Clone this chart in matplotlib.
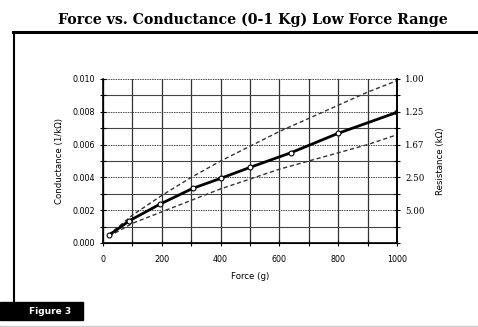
import matplotlib.pyplot as plt
import matplotlib.patches as patches
from matplotlib.ticker import MultipleLocator

# measured curve (force in g, conductance in 1/kOhm)
force = [22, 90, 195, 305, 400, 500, 640, 800, 1000]
conductance = [0.0005, 0.00136, 0.00238, 0.00333, 0.00394, 0.00461, 0.00551, 0.00669, 0.00797]

# tolerance band (dashed)
band_force = [20, 100, 200, 300, 400, 500, 600, 700, 800, 900, 1000]
band_upper = [0.0005, 0.0017, 0.0029, 0.0040, 0.0050, 0.0059, 0.0068, 0.0076, 0.0084, 0.0092, 0.0099]
band_lower = [0.0004, 0.0012, 0.0019, 0.0026, 0.0033, 0.0039, 0.0045, 0.0050, 0.0055, 0.0060, 0.0066]

left_ticks = [0.000, 0.002, 0.004, 0.006, 0.008, 0.010]
right_ticks = [0.002, 0.004, 0.006, 0.008, 0.010]
right_labels = ['5.00', '2.50', '1.67', '1.25', '1.00']

W, H = 478, 327
fig = plt.figure(figsize=(W / 100, H / 100), dpi=100)

# page decorations
fig.text(253 / W, 1 - 20 / H, 'Force vs. Conductance (0-1 Kg) Low Force Range',
         ha='center', va='center', family='DejaVu Serif', fontsize=10.2, fontweight='bold')
fig.add_artist(plt.Line2D([13 / W, 1], [1 - 32 / H, 1 - 32 / H], color='black', lw=2.2))
fig.add_artist(plt.Line2D([13.5 / W, 13.5 / W], [1 - 32 / H, 1 - 303 / H], color='black', lw=1.5))
fig.add_artist(patches.Rectangle((0, 1 - 320 / H), 83 / W, 18 / H, transform=fig.transFigure,
                                 color='black'))
fig.text(50 / W, 1 - 311 / H, 'Figure 3', color='white', ha='center', va='center',
         fontsize=6.5, fontweight='bold')
fig.add_artist(plt.Line2D([0, 1], [1 - 325.5 / H, 1 - 325.5 / H], color='#cccccc', lw=1))

ax = fig.add_axes([103 / W, 1 - 243 / H, 294 / W, 164 / H])
ax.set_xlim(0, 1000)
ax.set_ylim(0, 0.010)

ax.xaxis.set_major_locator(MultipleLocator(200))
ax.xaxis.set_minor_locator(MultipleLocator(100))
ax.set_yticks(left_ticks)
ax.yaxis.set_minor_locator(MultipleLocator(0.001))
ax.set_yticklabels([f'{v:.3f}' for v in left_ticks])

ax.grid(which='major', axis='y', color='#444444', lw=0.7, ls=(0, (1.5, 1)))
ax.grid(which='minor', axis='y', color='#444444', lw=0.8)
ax.grid(which='both', axis='x', color='#333333', lw=0.9)

ax.plot(band_force, band_upper, color='#333333', lw=1.0, ls=(0, (3, 2)))
ax.plot(band_force, band_lower, color='#333333', lw=1.0, ls=(0, (3, 2)))
ax.plot(force, conductance, color='black', lw=2, marker='o', ms=3.5,
        mfc='white', mec='black', mew=0.8)

ax.spines['top'].set_visible(False)
for s in ['left', 'bottom', 'right']:
    ax.spines[s].set_linewidth(1.2)
ax.tick_params(which='both', direction='inout', length=5, width=0.8, labelsize=5.8)
ax.tick_params(which='minor', length=4)
ax.tick_params(axis='x', pad=6)
ax.set_xlabel('Force (g)', fontsize=6.2, labelpad=6)
ax.set_ylabel('Conductance (1/k\u03a9)', fontsize=6.2, labelpad=6)

ax2 = ax.twinx()
ax2.set_ylim(ax.get_ylim())
ax2.set_yticks(right_ticks)
ax2.yaxis.set_minor_locator(MultipleLocator(0.001))
ax2.set_yticklabels(right_labels, family='DejaVu Serif', fontsize=6.2)
ax2.spines['top'].set_visible(False)
ax2.spines['right'].set_linewidth(1.2)
ax2.tick_params(which='both', direction='inout', length=5, width=0.8)
ax2.tick_params(which='minor', length=4)
ax2.set_ylabel('Resistance (k\u03a9)', fontsize=6.2, labelpad=8)

plt.savefig('out.png', dpi=100)
